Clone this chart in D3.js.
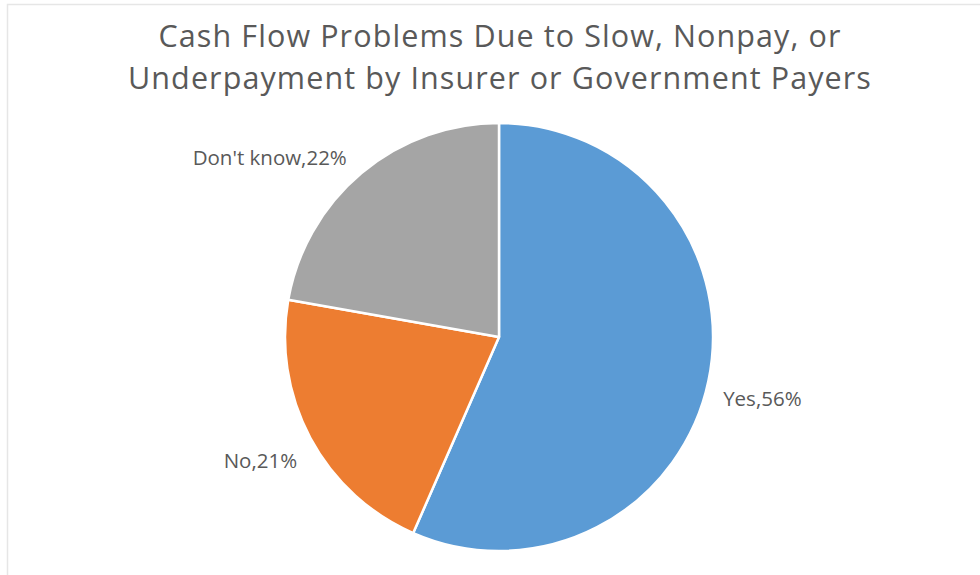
<!DOCTYPE html>
<html>
<head>
<meta charset="utf-8">
<script src="https://cdn.jsdelivr.net/npm/d3@7/dist/d3.min.js"></script>
<style>
html,body{margin:0;padding:0;background:#fff;}
svg{display:block;}
</style>
</head>
<body>
<svg id="chart" width="980" height="575"></svg>
<script>
const titleLines = ["Cash Flow Problems Due to Slow, Nonpay, or", "Underpayment by Insurer or Government Payers"];
const categories = ["Yes", "No", "Don't know"];
const values = [56, 21, 22];
const colors = ["#5B9BD5", "#ED7D31", "#A5A5A5"];

const W = 980, H = 575;
const svg = d3.select("#chart");
const font = "'Open Sans', 'Noto Sans', sans-serif";

// chart border
svg.append("rect").attr("x", 7.5).attr("y", 4.5).attr("width", W + 10).attr("height", H + 10)
  .attr("fill", "none").attr("stroke", "#e6e6e6").attr("stroke-width", 1.5);

// title
svg.append("g").selectAll("text").data(titleLines).join("text")
  .attr("x", 500).attr("y", (d, i) => 47 + i * 42)
  .attr("text-anchor", "middle")
  .attr("font-family", font).attr("font-size", 30.5)
  .attr("letter-spacing", 1.1)
  .attr("fill", "#595959")
  .text(d => d);

const cx = 499, cy = 337, R = 214;
const data = categories.map((c, i) => ({ cat: c, value: values[i], color: colors[i] }));
const pie = d3.pie().value(d => d.value).sort(null);
const arcs = pie(data);
const arc = d3.arc().innerRadius(0).outerRadius(R);

const g = svg.append("g").attr("transform", `translate(${cx},${cy})`);
g.selectAll("path").data(arcs).join("path")
  .attr("d", arc)
  .attr("fill", d => d.data.color)
  .attr("stroke", "#fff").attr("stroke-width", 2.5).attr("stroke-linejoin", "round");

// labels
const labelR = R + 15;
const lh = 18;
const labels = g.selectAll("text.lbl").data(arcs).join("text")
  .attr("class", "lbl")
  .attr("font-family", font).attr("font-size", 20.5)
  .attr("fill", "#595959")
  .text(d => `${d.data.cat},${d.data.value}%`);
labels.each(function(d) {
  const a = (d.startAngle + d.endAngle) / 2;
  const px = labelR * Math.sin(a), py = -labelR * Math.cos(a);
  const right = px >= 0, lower = py >= 0;
  const t = d3.select(this);
  t.attr("text-anchor", right ? "start" : "end")
   .attr("x", lower ? px : px - 5)
   .attr("y", lower ? py + lh / 2 + 8 : py - lh / 2 + 7)
   .attr("dominant-baseline", "middle");
});
</script>
</body>
</html>
